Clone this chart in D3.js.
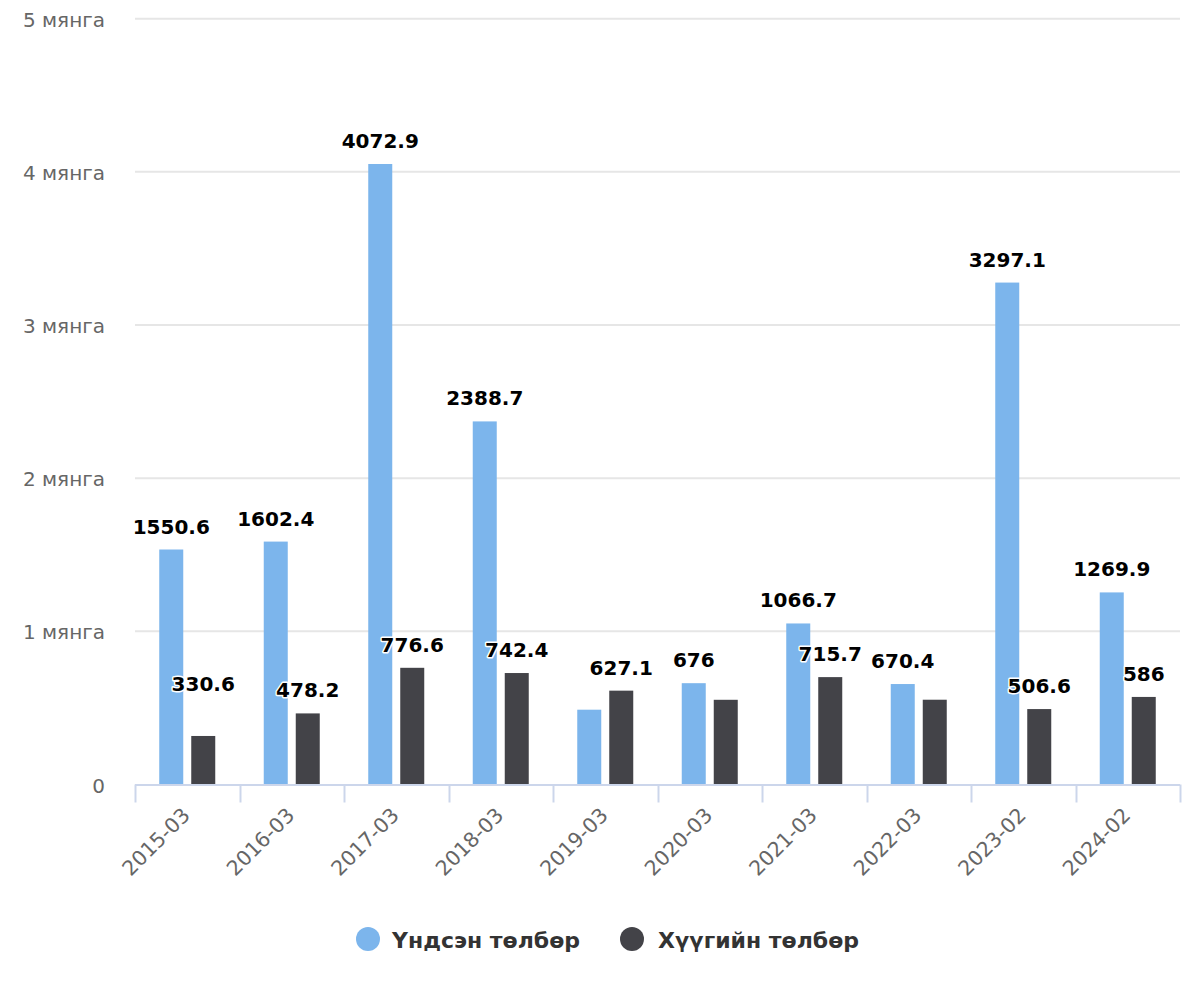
<!DOCTYPE html>
<html>
<head>
<meta charset="utf-8">
<script src="https://cdn.jsdelivr.net/npm/d3@7"></script>
<style>
  html, body { margin: 0; padding: 0; background: #fff; }
  svg { display: block; }
</style>
</head>
<body>
<svg id="chart" width="1200" height="1000"></svg>
<script>
const categories = ["2015-03","2016-03","2017-03","2018-03","2019-03","2020-03","2021-03","2022-03","2023-02","2024-02"];
const seriesNames = ["Үндсэн төлбөр", "Хүүгийн төлбөр"];
const principal = [1550.6, 1602.4, 4072.9, 2388.7, 502.5, 676, 1066.7, 670.4, 3297.1, 1269.9];
const interest  = [330.6, 478.2, 776.6, 742.4, 627.1, 567.3, 715.7, 567.8, 506.6, 586];
const yTicks = [0, 1000, 2000, 3000, 4000, 5000];
const yTickLabels = ["0", "1 мянга", "2 мянга", "3 мянга", "4 мянга", "5 мянга"];
const colors = ["#7cb5ec", "#434348"];

const svg = d3.select("#chart");
const m = { left: 135, right: 1180, top: 18.7, bottom: 784.5 };
const FONT = "'DejaVu Sans', Verdana, sans-serif";

const x = d3.scaleBand().domain(categories).range([m.left, m.right]).padding(0);
const xInner = d3.scaleBand().domain(seriesNames).range([0, 56]).paddingInner(0.25).paddingOuter(0);
const yAxisScale = d3.scaleLinear().domain([0, 5000]).range([m.bottom, m.top]);
const yBar = d3.scaleLinear().domain([0, 5000]).range([786.5, 22.3]);

// gridlines
svg.append("g").selectAll("line").data(yTicks.slice(1)).join("line")
  .attr("x1", m.left).attr("x2", m.right)
  .attr("y1", d => yAxisScale(d)).attr("y2", d => yAxisScale(d))
  .attr("stroke", "#e6e6e6").attr("stroke-width", 2);

// y labels
svg.append("g").selectAll("text").data(yTicks).join("text")
  .attr("x", 105).attr("y", d => yAxisScale(d) + 1)
  .attr("text-anchor", "end").attr("dominant-baseline", "central")
  .attr("font-family", FONT).attr("font-size", 20)
  .attr("fill", "#666")
  .text((d, i) => yTickLabels[i]);

// bars
const series = [principal, interest];
const bars = [];
categories.forEach((c, i) => {
  series.forEach((s, k) => {
    bars.push({ cat: c, series: seriesNames[k], k, value: s[i] });
  });
});
const groupOffset = (x.bandwidth() - 56) / 2;
svg.append("g").selectAll("rect").data(bars).join("rect")
  .attr("x", d => x(d.cat) + groupOffset + xInner(d.series))
  .attr("width", xInner.bandwidth())
  .attr("y", d => yBar(d.value))
  .attr("height", d => yAxisScale(0) - yBar(d.value))
  .attr("fill", d => colors[d.k]);

// x axis line and ticks
svg.append("line").attr("x1", m.left).attr("x2", m.right)
  .attr("y1", m.bottom + 0.5).attr("y2", m.bottom + 0.5)
  .attr("stroke", "#ccd6eb").attr("stroke-width", 2);
const tickPos = categories.map(c => x(c)).concat([m.right]);
svg.append("g").selectAll("line").data(tickPos).join("line")
  .attr("x1", d => Math.round(d) + 0.5).attr("x2", d => Math.round(d) + 0.5)
  .attr("y1", m.bottom).attr("y2", m.bottom + 18)
  .attr("stroke", "#ccd6eb").attr("stroke-width", 2);

// x labels rotated
svg.append("g").selectAll("text").data(categories).join("text")
  .attr("transform", d => `translate(${x(d) + x.bandwidth() / 2 + 4},${m.bottom + 32}) rotate(-45)`)
  .attr("text-anchor", "end")
  .attr("font-family", FONT).attr("font-size", 20.5)
  .attr("fill", "#666")
  .text(d => d);

// data labels
const labelLayoutOverride = { "Хүүгийн төлбөр|2015-03": 684 };
const fmt = v => String(v);
const lblG = svg.append("g");
const lbls = lblG.selectAll("text").data(bars).join("text")
  .attr("x", d => x(d.cat) + groupOffset + xInner(d.series) + xInner.bandwidth() / 2)
  .attr("y", d => {
    const key = d.series + "|" + d.cat;
    return (key in labelLayoutOverride) ? labelLayoutOverride[key] : yBar(d.value) - 23;
  })
  .attr("text-anchor", "middle").attr("dominant-baseline", "central")
  .attr("font-family", FONT).attr("font-size", 20)
  .attr("font-weight", "bold").attr("fill", "#000")
  .attr("stroke", "#fff").attr("stroke-width", 3).attr("stroke-linejoin", "round")
  .attr("paint-order", "stroke")
  .text(d => fmt(d.value));

// hide overlapping labels (smaller value hidden)
const nodes = lbls.nodes().map((n, i) => ({ n, d: bars[i], b: n.getBBox() }));
nodes.sort((a, b) => b.d.value - a.d.value);
const kept = [];
nodes.forEach(o => {
  const ov = kept.some(k => !(o.b.x + o.b.width < k.b.x || k.b.x + k.b.width < o.b.x ||
    o.b.y + o.b.height < k.b.y || k.b.y + k.b.height < o.b.y));
  if (ov) d3.select(o.n).attr("display", "none"); else kept.push(o);
});

// legend
const legendItems = [
  { name: seriesNames[0], cx: 368, tx: 392, color: colors[0] },
  { name: seriesNames[1], cx: 632, tx: 658, color: colors[1] }
];
const lg = svg.append("g");
lg.selectAll("circle").data(legendItems).join("circle")
  .attr("cx", d => d.cx).attr("cy", 939).attr("r", 12).attr("fill", d => d.color);
lg.selectAll("text").data(legendItems).join("text")
  .attr("x", d => d.tx).attr("y", 940).attr("dominant-baseline", "central")
  .attr("font-family", FONT).attr("font-size", 22)
  .attr("font-weight", "bold").attr("fill", "#333")
  .text(d => d.name);
</script>
</body>
</html>
